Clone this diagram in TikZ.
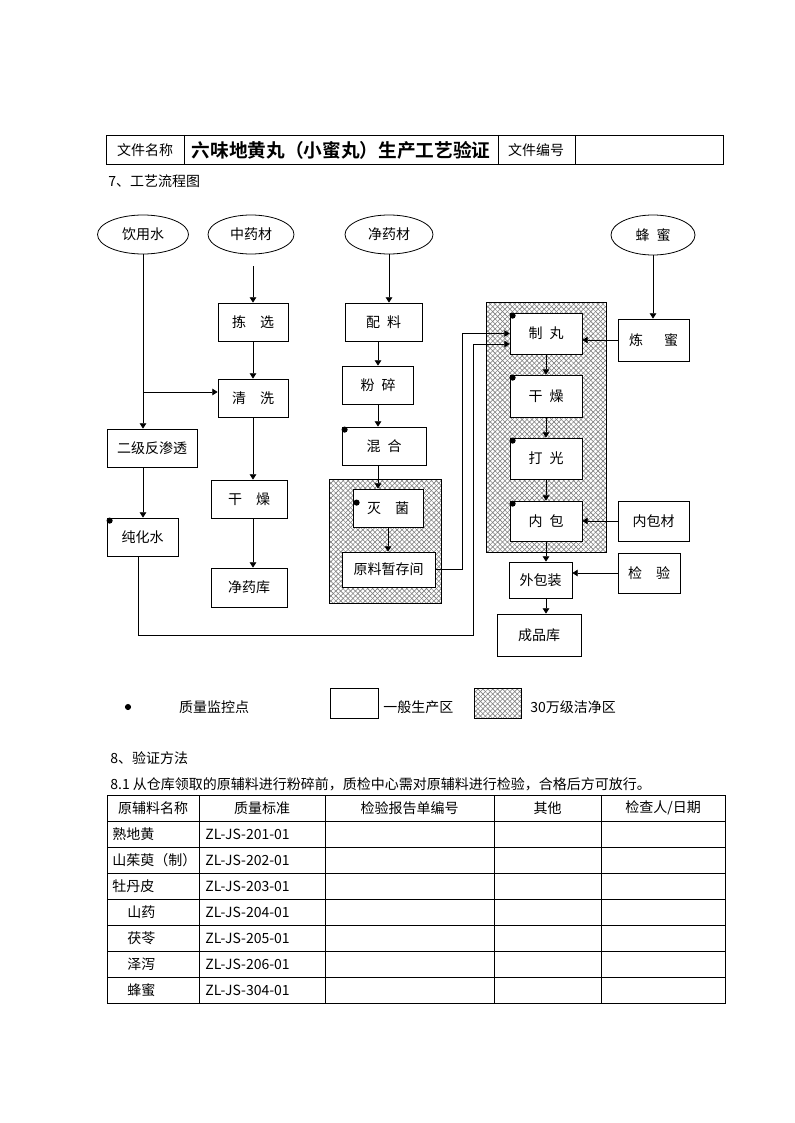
\documentclass[tikz,border=0pt]{standalone}
\usepackage{fontspec}
\setmainfont{Noto Sans CJK SC}[BoldFont={* Bold}]
\usetikzlibrary{shapes.geometric,arrows.meta,patterns.meta}
\newcommand{\normaltext}{\fontsize{10.5pt}{12pt}\selectfont}
\tikzset{
  proc/.style={draw, fill=white, inner sep=0pt, minimum height=28.5pt},
  src/.style={draw, ellipse, inner sep=0pt, minimum width=66pt, minimum height=29.25pt},
  flow/.style={-{Triangle[length=4pt,width=5pt]}},
  cleanzone/.style={draw,
    preaction={pattern={Lines[angle=45,distance=2.6pt,line width=0.45pt]}, pattern color=gray},
    pattern={Lines[angle=-45,distance=2.6pt,line width=0.45pt]}, pattern color=gray},
  txt/.style={inner sep=0pt}
}
\begin{document}
\begin{tikzpicture}[x=0.75pt,y=-0.75pt,line width=0.6pt,font=\normaltext]
        \useasboundingbox[fill=white] (0,0) rectangle (794,1123);

        % Header
        \draw (106,135) rectangle (723,164);
        \draw (184,135) -- (184,164) (498,135) -- (498,164) (575,135) -- (575,164);
        \node[txt] (hname) at (145,150) {文件名称};
        \node[txt,font=\fontsize{14pt}{16pt}\selectfont\bfseries] (htitle) at (341,150) {六味地黄丸（小蜜丸）生产工艺验证};
        \node[txt] (hno) at (536,150) {文件编号};
        \node[txt,anchor=west] (sec7) at (108,181) {7、工艺流程图};

        % Clean zones
        \draw[cleanzone] (329,479) rectangle (441,603);
        \draw[cleanzone] (486,302) rectangle (606,552);

        % Sources
        \node[src,minimum width=68.25pt] (water) at (143,234.5) {饮用水};
        \node[src,minimum width=64.5pt] (herb) at (251,234.5) {中药材};
        \node[src] (cleanherb) at (389,234.5) {净药材};
        \node[src,minimum width=63pt,minimum height=30pt] (honey) at (653,235) {蜂\enspace 蜜};

        % Water line
        \node[proc,minimum width=67.5pt] (ro) at (152,448) {二级反渗透};
        \node[proc,minimum width=53.25pt] (pure) at (142.5,537) {纯化水};

        % Herb line
        \node[proc,minimum width=52.5pt] (pick) at (253,322) {拣\quad 选};
        \node[proc,minimum width=52.5pt] (wash) at (253,398) {清\quad 洗};
        \node[proc,minimum width=57pt] (dryA) at (249,499) {干\quad 燥};
        \node[proc,minimum width=57pt,minimum height=29.25pt] (herbstore) at (249,587.5) {净药库};

        % Powder line
        \node[proc,minimum width=57.75pt] (dose) at (383.5,322) {配\enspace 料};
        \node[proc,minimum width=53pt] (grind) at (378,385) {粉\enspace 碎};
        \node[proc,minimum width=63pt] (blend) at (384,446) {混\enspace 合};
        \node[proc,minimum width=52.5pt] (steril) at (388,508) {灭\quad 菌};
        \node[proc,minimum width=69.75pt,minimum height=26.25pt] (temp) at (388.5,569.5) {原料暂存间};

        % Pill line
        \node[proc,minimum width=54pt,minimum height=30.75pt] (pill) at (546,333.5) {制\enspace 丸};
        \node[proc,minimum width=54pt,minimum height=31.5pt] (dryB) at (546,396) {干\enspace 燥};
        \node[proc,minimum width=54pt,minimum height=30.75pt] (polish) at (546,458.5) {打\enspace 光};
        \node[proc,minimum width=54pt,minimum height=30pt] (inner) at (546,521) {内\enspace 包};
        \node[proc,minimum width=53.25pt,minimum height=31.5pt] (refine) at (653.5,340) {炼\quad\enspace 蜜};
        \node[proc,minimum width=53.25pt,minimum height=30pt] (innermat) at (653.5,521) {内包材};
        \node[proc,minimum width=47.25pt,minimum height=27pt] (outer) at (540.5,580) {外包装};
        \node[proc,minimum width=46.5pt,minimum height=30pt] (check) at (649,573) {检\quad 验};
        \node[proc,minimum width=63pt,minimum height=31.5pt] (product) at (539,635) {成品库};

        % Connectors
        \coordinate (herbend) at (253,266);
        \coordinate (washin) at (143,392);
        \coordinate (purecorner) at (473,635);
        \coordinate (pillin) at (473,344);
        \coordinate (tempcorner) at (462,333.5);
        \draw[flow] (herbend) -- (pick);
        \draw[flow] (pick) -- (wash);
        \draw[flow] (wash.south) -- (wash.south |- dryA.north);
        \draw[flow] (wash.south |- dryA.south) -- (wash.south |- herbstore.north);
        \draw[flow] (water.south) -- (water.south |- ro.north);
        \draw[flow] (washin) -- (washin -| wash.west);
        \draw[flow] (water.south |- ro.south) -- (water.south |- pure.north);
        \draw[flow] ([xshift=-3.4pt]pure.south) |- (purecorner) -- (pillin) -- (pillin -| pill.west);
        \draw[flow] (cleanherb.south) -- (cleanherb.south |- dose.north);
        \draw[flow] (grind.north |- dose.south) -- (grind.north);
        \draw[flow] (grind.south) -- (grind.south |- blend.north);
        \draw[flow] (grind.south |- blend.south) -- (grind.south |- steril.north);
        \draw[flow] (steril.south) -- (steril.south |- temp.north);
        \draw[flow] (temp.east) -| (tempcorner) -- (pill.west);
        \draw[flow] (honey.south) -- (honey.south |- refine.north);
        \draw[flow] (refine.west) -- (refine.west -| pill.east);
        \draw[flow] (pill) -- (dryB);
        \draw[flow] (dryB) -- (polish);
        \draw[flow] (polish) -- (inner);
        \draw[flow] (innermat.west) -- (inner.east);
        \draw[flow] (inner.south) -- (inner.south |- outer.north);
        \draw[flow] (check.west) -- (check.west -| outer.east);
        \draw[flow] (inner.south |- outer.south) -- (inner.south |- product.north);

        % Quality control points
        \fill (pure.north west) ++(3,3) circle (2.3pt);
        \fill (blend.north west) ++(3,3) circle (2.3pt);
        \fill (steril.north west) ++(4,14) circle (2.3pt);
        \fill (pill.north west) ++(3,3) circle (2.3pt);
        \fill (dryB.north west) ++(3,3) circle (2.3pt);
        \fill (polish.north west) ++(3,3) circle (2.3pt);
        \fill (inner.north west) ++(3,3) circle (2.3pt);

        % Legend
        \fill (128,707) circle (2.3pt);
        \node[txt] (lgqc) at (214,707) {质量监控点};
        \draw (330,688) rectangle (378,718);
        \node[txt,anchor=west] (lggen) at (383,707) {一般生产区};
        \draw[cleanzone] (474,688) rectangle (521,718);
        \node[txt,anchor=west] (lgclean) at (530,707) {30万级洁净区};

        % Section 8
        \node[txt,anchor=west] (sec8) at (110,758) {8、验证方法};
        \node[txt,anchor=west] (sec81) at (110,784) {8.1 从仓库领取的原辅料进行粉碎前，质检中心需对原辅料进行检验，合格后方可放行。};

        % Table
        \draw (107,795) rectangle (725,1003);
        \draw (199,795) -- (199,1003) (325,795) -- (325,1003) (494,795) -- (494,1003) (601,795) -- (601,1003);
        \draw (107,821) -- (725,821) (107,847) -- (725,847) (107,873) -- (725,873) (107,899) -- (725,899);
        \draw (107,925) -- (725,925) (107,951) -- (725,951) (107,977) -- (725,977);
        \node[txt] (th1) at (153,808) {原辅料名称};
        \node[txt] (th2) at (262,808) {质量标准};
        \node[txt] (th3) at (409.5,808) {检验报告单编号};
        \node[txt] (th4) at (547.5,808) {其他};
        \node[txt] (th5) at (663,808) {检查人/日期};
        \node[txt,anchor=west] (m1) at (112,834) {熟地黄};
        \node[txt,anchor=west] (m2) at (112,860) {山茱萸（制）};
        \node[txt,anchor=west] (m3) at (112,886) {牡丹皮};
        \node[txt,anchor=west] (m4) at (127,912) {山药};
        \node[txt,anchor=west] (m5) at (127,938) {茯苓};
        \node[txt,anchor=west] (m6) at (127,964) {泽泻};
        \node[txt,anchor=west] (m7) at (127,990) {蜂蜜};
        \node[txt,anchor=west] (s1) at (205,834) {ZL-JS-201-01};
        \node[txt,anchor=west] (s2) at (205,860) {ZL-JS-202-01};
        \node[txt,anchor=west] (s3) at (205,886) {ZL-JS-203-01};
        \node[txt,anchor=west] (s4) at (205,912) {ZL-JS-204-01};
        \node[txt,anchor=west] (s5) at (205,938) {ZL-JS-205-01};
        \node[txt,anchor=west] (s6) at (205,964) {ZL-JS-206-01};
        \node[txt,anchor=west] (s7) at (205,990) {ZL-JS-304-01};
      \end{tikzpicture}
\end{document}
